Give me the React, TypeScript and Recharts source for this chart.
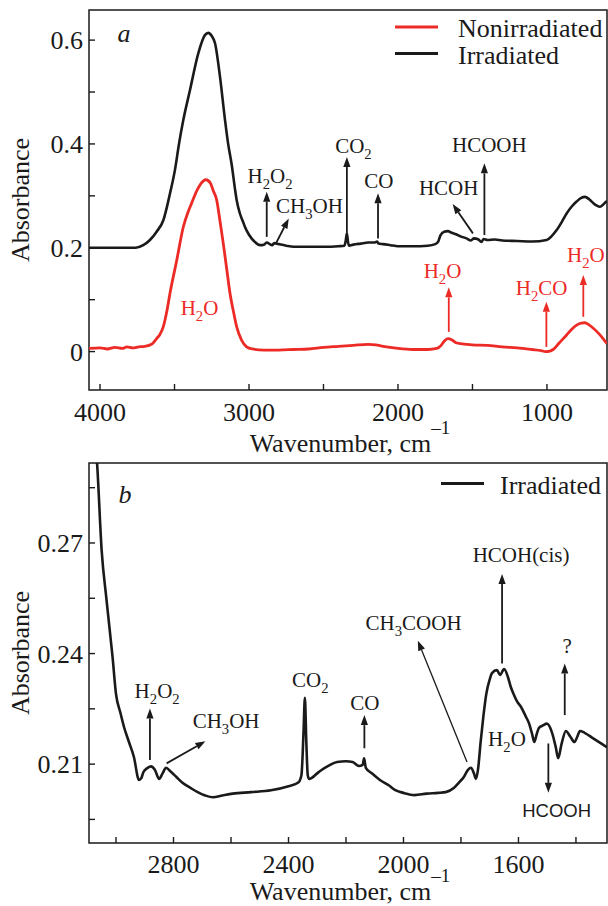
import React from 'react';
import { LineChart, Line, XAxis, YAxis, ReferenceLine, ReferenceDot, ReferenceArea, Legend, Label } from 'recharts';

const SERIF = '"Liberation Serif", "Times New Roman", serif';
const SANS = '"Liberation Sans", Arial, sans-serif';
const RED = '#ec2a26';
const INK = '#1a1a1a';

// panel a: nonirradiated sample
const nonWn = [4074, 4000, 3950, 3900, 3850, 3820, 3780, 3740, 3700, 3650, 3620, 3600, 3575, 3550, 3530, 3485, 3441, 3410, 3385, 3350, 3329, 3289, 3260, 3240, 3217, 3195, 3173, 3150, 3128, 3105, 3083, 3050, 3016, 2980, 2900, 2800, 2700, 2600, 2500, 2400, 2300, 2200, 2150, 2100, 2000, 1900, 1800, 1740, 1710, 1690, 1665, 1640, 1610, 1570, 1500, 1400, 1300, 1200, 1100, 1040, 1010, 980, 958, 920, 868, 830, 801, 770, 745, 720, 689, 660, 633, 597];
const nonAbs = [0.006, 0.007, 0.005, 0.008, 0.006, 0.009, 0.007, 0.009, 0.01, 0.015, 0.025, 0.032, 0.048, 0.08, 0.113, 0.176, 0.24, 0.268, 0.286, 0.31, 0.321, 0.331, 0.325, 0.31, 0.292, 0.252, 0.209, 0.16, 0.113, 0.078, 0.048, 0.022, 0.009, 0.005, 0.003, 0.003, 0.004, 0.005, 0.008, 0.01, 0.012, 0.014, 0.013, 0.01, 0.006, 0.004, 0.004, 0.006, 0.012, 0.02, 0.025, 0.023, 0.017, 0.015, 0.013, 0.012, 0.009, 0.007, 0.004, 0.002, 0.0, 0.001, 0.004, 0.016, 0.032, 0.044, 0.051, 0.055, 0.0555, 0.052, 0.045, 0.037, 0.0285, 0.015];

// panel a: irradiated sample
const irrWn = [4074, 3950, 3850, 3760, 3710, 3665, 3620, 3575, 3530, 3497, 3470, 3441, 3396, 3340, 3295, 3273, 3250, 3228, 3195, 3161, 3140, 3116, 3095, 3083, 3061, 3040, 3027, 3000, 2960, 2926, 2900, 2880, 2860, 2845, 2830, 2800, 2750, 2700, 2600, 2500, 2400, 2360, 2350, 2343, 2336, 2328, 2300, 2250, 2200, 2160, 2140, 2130, 2100, 2050, 2000, 1900, 1800, 1750, 1730, 1715, 1690, 1665, 1640, 1610, 1580, 1540, 1510, 1490, 1460, 1440, 1425, 1400, 1350, 1300, 1200, 1100, 1002, 970, 935, 900, 868, 835, 801, 770, 745, 715, 689, 665, 644, 620, 597];
const irrAbs = [0.2, 0.2, 0.2, 0.2, 0.205, 0.215, 0.231, 0.253, 0.305, 0.35, 0.4, 0.446, 0.504, 0.575, 0.61, 0.614, 0.608, 0.594, 0.53, 0.446, 0.4, 0.36, 0.315, 0.292, 0.266, 0.25, 0.24, 0.225, 0.211, 0.205, 0.206, 0.21, 0.207, 0.205, 0.209, 0.207, 0.204, 0.202, 0.202, 0.202, 0.203, 0.204, 0.215, 0.228, 0.212, 0.204, 0.206, 0.208, 0.21, 0.21, 0.212, 0.208, 0.207, 0.205, 0.203, 0.203, 0.204, 0.207, 0.212, 0.224, 0.231, 0.232, 0.229, 0.226, 0.222, 0.218, 0.214, 0.218, 0.216, 0.211, 0.217, 0.215, 0.216, 0.214, 0.213, 0.212, 0.215, 0.222, 0.234, 0.25, 0.266, 0.279, 0.289, 0.296, 0.298, 0.293, 0.286, 0.281, 0.279, 0.284, 0.29];

// panel b: irradiated, 3100-1300 cm-1
const zoomWn = [3085, 3066, 3050, 3033, 3012, 3000, 2985, 2972, 2955, 2938, 2920, 2912, 2905, 2890, 2878, 2865, 2850, 2838, 2826, 2810, 2790, 2770, 2740, 2716, 2690, 2663, 2630, 2594, 2530, 2461, 2400, 2366, 2355, 2348, 2343, 2338, 2333, 2328, 2300, 2285, 2260, 2231, 2200, 2177, 2155, 2142, 2137, 2131, 2110, 2082, 2050, 2030, 2000, 1961, 1920, 1880, 1853, 1825, 1807, 1790, 1775, 1765, 1755, 1748, 1740, 1732, 1722, 1712, 1700, 1692, 1675, 1664, 1650, 1637, 1627, 1617, 1605, 1591, 1575, 1563, 1552, 1545, 1537, 1529, 1515, 1501, 1483, 1470, 1462, 1450, 1435, 1420, 1405, 1395, 1386, 1370, 1340, 1310, 1292];
const zoomAbs = [0.305, 0.2917, 0.268, 0.2545, 0.239, 0.229, 0.224, 0.22, 0.216, 0.212, 0.2057, 0.2062, 0.2078, 0.209, 0.2094, 0.2085, 0.206, 0.2075, 0.209, 0.208, 0.2065, 0.205, 0.2035, 0.2024, 0.2015, 0.201, 0.2015, 0.202, 0.2024, 0.2029, 0.204, 0.205, 0.207, 0.218, 0.228, 0.216, 0.207, 0.206, 0.2075, 0.2084, 0.2096, 0.2106, 0.2108, 0.2106, 0.2095, 0.2098, 0.2116, 0.209, 0.2075, 0.2057, 0.2042, 0.203, 0.2022, 0.2016, 0.202, 0.2022, 0.2024, 0.2035, 0.205, 0.2065, 0.2085, 0.209, 0.2075, 0.206, 0.209, 0.2157, 0.223, 0.229, 0.233, 0.2347, 0.2355, 0.2342, 0.2358, 0.2337, 0.231, 0.229, 0.227, 0.2255, 0.223, 0.221, 0.218, 0.216, 0.218, 0.2198, 0.2205, 0.221, 0.2185, 0.2145, 0.2116, 0.2155, 0.219, 0.2175, 0.216, 0.2175, 0.219, 0.2185, 0.217, 0.2155, 0.2146];

const aXTicks = [4000, 3500, 3000, 2500, 2000, 1500, 1000];
const aXLabels = [4000, 3000, 2000, 1000];
const aYTicks = [0, 0.1, 0.2, 0.3, 0.4, 0.5, 0.6];
const aYLabels = [0, 0.2, 0.4, 0.6];
const bXTicks = [3000, 2800, 2600, 2400, 2200, 2000, 1800, 1600, 1400];
const bXLabels = [2800, 2400, 2000, 1600];
const bYTicks = [0.195, 0.21, 0.225, 0.24, 0.255, 0.27, 0.285];
const bYLabels = [0.21, 0.24, 0.27];
const legendOrder = ['Nonirradiated', 'Irradiated'];

const aXDomain = [597, 4074];
const aYDomain = [-0.074, 0.658];
const bXDomain = [1292, 3094];
const bYDomain = [0.1886, 0.2917];

const toRows = (wn: number[], abs: number[]) => wn.map((w, i) => ({ w, a: abs[i] }));
const nonData = toRows(nonWn, nonAbs);
const irrData = toRows(irrWn, irrAbs);
const zoomData = toRows(zoomWn, zoomAbs);

type Note = { w: number; a: number; text: string; color?: string; family?: string; size?: number; italic?: boolean };
type Arrow = { from: [number, number]; to: [number, number]; color?: string; width?: number };

const aNotes: Note[] = [
  { w: 3839, a: 0.597, text: 'a', italic: true, size: 26 },
  { w: 2859, a: 0.325, text: 'H_2O_2' },
  { w: 2594, a: 0.267, text: 'CH_3OH' },
  { w: 2299, a: 0.382, text: 'CO_2' },
  { w: 2128, a: 0.315, text: 'CO' },
  { w: 1660, a: 0.3015, text: 'HCOH' },
  { w: 1387, a: 0.385, text: 'HCOOH' },
  { w: 3332, a: 0.07, text: 'H_2O', color: RED },
  { w: 1701, a: 0.1416, text: 'H_2O', color: RED },
  { w: 1036, a: 0.109, text: 'H_2CO', color: RED },
  { w: 739, a: 0.173, text: 'H_2O', color: RED },
];
const aArrows: Arrow[] = [
  { from: [2881, 0.221], to: [2881, 0.308] },
  { from: [2819, 0.2085], to: [2733, 0.2566] },
  { from: [2343, 0.229], to: [2343, 0.3748] },
  { from: [2134, 0.218], to: [2134, 0.305] },
  { from: [1497, 0.2277], to: [1633, 0.2842] },
  { from: [1420, 0.2245], to: [1420, 0.3626] },
  { from: [1659, 0.038], to: [1659, 0.1237], color: RED },
  { from: [1004, 0.009], to: [1004, 0.096], color: RED },
  { from: [756, 0.067], to: [756, 0.1474], color: RED },
];

const bNotes: Note[] = [
  { w: 2969, a: 0.2809, text: 'b', italic: true, size: 26 },
  { w: 2857, a: 0.2279, text: 'H_2O_2' },
  { w: 2617, a: 0.2198, text: 'CH_3OH' },
  { w: 2324, a: 0.231, text: 'CO_2' },
  { w: 2134, a: 0.2247, text: 'CO' },
  { w: 1965, a: 0.2464, text: 'CH_3COOH' },
  { w: 1591, a: 0.2649, text: 'HCOH(cis)' },
  { w: 1431, a: 0.2401, text: '?' },
  { w: 1640, a: 0.2149, text: 'H_2O' },
  { w: 1467, a: 0.1957, text: 'HCOOH', family: SANS, size: 18.5 },
];
const bArrows: Arrow[] = [
  { from: [2882, 0.2111], to: [2882, 0.2251] },
  { from: [2824, 0.2102], to: [2689, 0.2162] },
  { from: [2136, 0.2143], to: [2136, 0.2233] },
  { from: [1779, 0.2106], to: [1950, 0.2435], width: 1.3 },
  { from: [1657, 0.2373], to: [1657, 0.2616] },
  { from: [1439, 0.2233], to: [1439, 0.2373] },
  { from: [1496, 0.2156], to: [1496, 0.2022] },
];

const Formula = ({ cx, cy, note }: { cx: number; cy: number; note: Note }) => {
  const size = note.size ?? 21;
  const drop = Math.round(size * 0.3);
  const parts = note.text.split(/(_\d)/).filter(Boolean);
  let low = false;
  return (
    <text x={cx} y={cy} textAnchor="middle" fontSize={size} fontFamily={note.family ?? SERIF}
      fontStyle={note.italic ? 'italic' : 'normal'} fill={note.color ?? INK}>
      {parts.map((p, i) => {
        if (p[0] === '_') {
          const el = <tspan key={i} dy={low ? 0 : drop} fontSize={size * 0.7}>{p.slice(1)}</tspan>;
          low = true;
          return el;
        }
        const el = <tspan key={i} dy={low ? -drop : 0}>{p}</tspan>;
        low = false;
        return el;
      })}
    </text>
  );
};

const arrowShape = (color: string, width: number) => (p: any) => {
  const { x1, y1, x2, y2 } = p;
  if (x1 == null || x2 == null) return <g />;
  const ang = Math.atan2(y2 - y1, x2 - x1);
  const len = 10;
  const half = 3.6;
  const bx = x2 - len * Math.cos(ang);
  const by = y2 - len * Math.sin(ang);
  const nx = -Math.sin(ang) * half;
  const ny = Math.cos(ang) * half;
  return (
    <g>
      <line x1={x1} y1={y1} x2={bx} y2={by} stroke={color} strokeWidth={width} />
      <polygon points={`${x2},${y2} ${bx + nx},${by + ny} ${bx - nx},${by - ny}`} fill={color} />
    </g>
  );
};

const xTick = (labels: number[], dy: number) => (p: any) => {
  const { x, y, payload } = p;
  const major = labels.includes(payload.value);
  return (
    <g>
      <line x1={x} x2={x} y1={y} y2={y - 6} stroke={INK} strokeWidth={1.4} />
      {major && (
        <text x={x} y={y + dy} textAnchor="middle" fontSize={26} fontFamily={SERIF} fill={INK}>{payload.value}</text>
      )}
    </g>
  );
};

const yTick = (labels: number[]) => (p: any) => {
  const { x, y, payload } = p;
  const major = labels.includes(payload.value);
  return (
    <g>
      <line x1={x} x2={x + 6} y1={y} y2={y} stroke={INK} strokeWidth={1.4} />
      {major && (
        <text x={x - 6} y={y + 9} textAnchor="end" fontSize={26} fontFamily={SERIF} fill={INK}>{payload.value}</text>
      )}
    </g>
  );
};

const xTitle = (dy: number) => (p: any) => {
  const vb = p.viewBox;
  return (
    <text x={vb.x + vb.width / 2 + 2} y={vb.y + dy} textAnchor="middle" fontSize={26} fontFamily={SERIF} fill={INK}>
      Wavenumber, cm<tspan dy={-18} fontSize={19}>–1</tspan>
    </text>
  );
};

const yTitle = (p: any) => {
  const vb = p.viewBox;
  const cy = vb.y + vb.height / 2;
  return (
    <text x={29} y={cy} transform={`rotate(-90 29 ${cy})`} textAnchor="middle" fontSize={26} fontFamily={SERIF} fill={INK}>
      Absorbance
    </text>
  );
};

const legendContent = (lx1: number, lx2: number, tx: number, rows: number[]) => (p: any) => {
  const items = [...(p.payload || [])].sort(
    (m: any, n: any) => legendOrder.indexOf(m.value) - legendOrder.indexOf(n.value)
  );
  return (
    <svg width={608} height={80} style={{ display: 'block' }}>
      {items.map((e: any, i: number) => (
        <g key={e.value}>
          <line x1={lx1} x2={lx2} y1={rows[i] - 10} y2={rows[i] - 10} stroke={e.color} strokeWidth={3} />
          <text x={tx} y={rows[i]} fontSize={26} fontFamily={SERIF} fill={INK}>{e.value}</text>
        </g>
      ))}
    </svg>
  );
};

const renderNotes = (notes: Note[], prefix: string) =>
  notes.map((n, i) => (
    <ReferenceDot key={prefix + 'n' + i} x={n.w} y={n.a} r={0}
      shape={(p: any) => <Formula cx={p.cx} cy={p.cy} note={n} />} />
  ));

const renderArrows = (arrows: Arrow[], prefix: string) =>
  arrows.map((a, i) => (
    <ReferenceLine key={prefix + 'a' + i}
      segment={[{ x: a.from[0], y: a.from[1] }, { x: a.to[0], y: a.to[1] }]}
      shape={arrowShape(a.color ?? INK, a.width ?? 1.8)} />
  ));

const App = () => (
  <div style={{ position: 'absolute', left: 0, top: 0, width: 608, height: 906, background: '#fff' }}>
    <div style={{ position: 'absolute', left: 0, top: 0 }}>
      <LineChart width={608} height={470} margin={{ top: 10, right: 1, bottom: 0, left: 0 }}>
        <XAxis dataKey="w" type="number" domain={aXDomain} reversed allowDataOverflow ticks={aXTicks}
          interval={0} tickSize={0} tickMargin={0} axisLine={false} tickLine={false}
          tick={xTick(aXLabels, 31)} height={80}>
          <Label content={xTitle(62)} />
        </XAxis>
        <YAxis type="number" domain={aYDomain} allowDataOverflow ticks={aYTicks} interval={0}
          tickSize={0} tickMargin={0} axisLine={false} tickLine={false} tick={yTick(aYLabels)} width={89}>
          <Label content={yTitle} />
        </YAxis>
        <ReferenceArea x1={aXDomain[0]} x2={aXDomain[1]} y1={aYDomain[0]} y2={aYDomain[1]}
          fill="none" stroke={INK} strokeWidth={1.5} />
        <Line data={nonData} dataKey="a" name="Nonirradiated" type="monotone" stroke={RED}
          strokeWidth={2.8} dot={false} isAnimationActive={false} />
        <Line data={irrData} dataKey="a" name="Irradiated" type="monotone" stroke={INK}
          strokeWidth={2.6} dot={false} isAnimationActive={false} />
        {renderArrows(aArrows, 'top')}
        {renderNotes(aNotes, 'top')}
        <Legend layout="vertical" verticalAlign="middle" align="center"
          wrapperStyle={{ left: 0, top: 0, width: 608, height: 80 }}
          content={legendContent(395, 438, 458, [37, 63.5])} />
      </LineChart>
    </div>
    <div style={{ position: 'absolute', left: 0, top: 455 }}>
      <LineChart width={608} height={451} margin={{ top: 8, right: 1, bottom: 0, left: 0 }}>
        <XAxis dataKey="w" type="number" domain={bXDomain} reversed allowDataOverflow ticks={bXTicks}
          interval={0} tickSize={0} tickMargin={0} axisLine={false} tickLine={false}
          tick={xTick(bXLabels, 30)} height={63}>
          <Label content={xTitle(57)} />
        </XAxis>
        <YAxis type="number" domain={bYDomain} allowDataOverflow ticks={bYTicks} interval={0}
          tickSize={0} tickMargin={0} axisLine={false} tickLine={false} tick={yTick(bYLabels)} width={89}>
          <Label content={yTitle} />
        </YAxis>
        <ReferenceArea x1={bXDomain[0]} x2={bXDomain[1]} y1={bYDomain[0]} y2={bYDomain[1]}
          fill="none" stroke={INK} strokeWidth={1.5} />
        <Line data={zoomData} dataKey="a" name="Irradiated" type="monotone" stroke={INK}
          strokeWidth={2.6} dot={false} isAnimationActive={false} />
        {renderArrows(bArrows, 'bot')}
        {renderNotes(bNotes, 'bot')}
        <Legend layout="vertical" verticalAlign="middle" align="center"
          wrapperStyle={{ left: 0, top: 0, width: 608, height: 80 }}
          content={legendContent(441, 484, 500, [38.5])} />
      </LineChart>
    </div>
  </div>
);

export default App;
